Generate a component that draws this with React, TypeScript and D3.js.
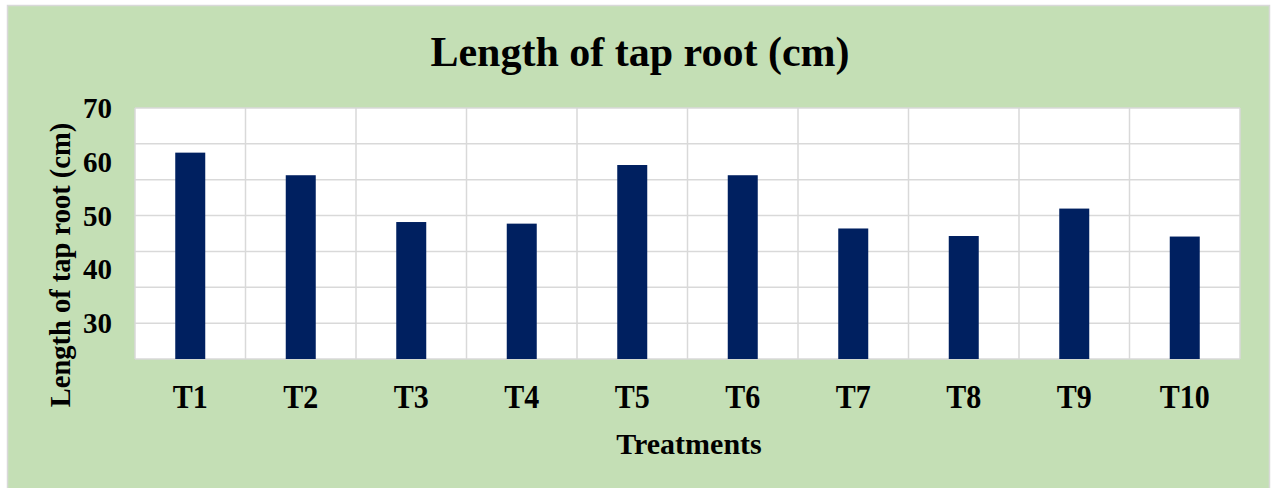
import React from "react";
import * as d3 from "d3";

const categories = ["T1", "T2", "T3", "T4", "T5", "T6", "T7", "T8", "T9", "T10"];
const values = [61.7, 57.5, 48.8, 48.5, 59.4, 57.5, 47.6, 46.2, 51.3, 46.1];
const tickLabels = [70, 60, 50, 40, 30];
const gridStep = 20 / 3;
const yMin = 70 - 7 * gridStep;
const yMax = 70;
const gridValues = d3.range(0, 8).map((i) => 70 - i * gridStep);

const W = 1278;
const H = 488;
const plot = { left: 135, right: 1240, top: 108, bottom: 359 };
const FONT = "'Liberation Serif', 'Times New Roman', serif";

export default function App() {
  const x = d3
    .scaleBand<string>()
    .domain(categories)
    .range([plot.left, plot.right])
    .paddingInner(0)
    .paddingOuter(0);
  const y = d3.scaleLinear().domain([yMin, yMax]).range([plot.bottom, plot.top]);
  const barW = 30;

  return (
    <div style={{ position: "fixed", left: 0, top: 0, width: W, height: H, background: "#fff" }}>
      <svg width={W} height={H} style={{ display: "block" }}>
        <rect x={7.5} y={5.5} width={1262} height={490} fill="#C4DFB5" stroke="#D9D9D9" strokeWidth={1.5} />
        <text
          x={640}
          y={66}
          textAnchor="middle"
          fontFamily={FONT}
          fontWeight="bold"
          fontSize={42}
          fill="#000"
        >
          Length of tap root (cm)
        </text>
        <rect
          x={plot.left}
          y={plot.top}
          width={plot.right - plot.left}
          height={plot.bottom - plot.top}
          fill="#fff"
        />
        {gridValues.map((v, i) => (
          <line
            key={"h" + i}
            x1={plot.left}
            x2={plot.right}
            y1={y(v)}
            y2={y(v)}
            stroke="#D9D9D9"
            strokeWidth={1.5}
          />
        ))}
        {categories.map((c, i) => (
          <line
            key={"v" + i}
            x1={x(c)!}
            x2={x(c)!}
            y1={plot.top}
            y2={plot.bottom}
            stroke="#D9D9D9"
            strokeWidth={1.5}
          />
        ))}
        <line x1={plot.right} x2={plot.right} y1={plot.top} y2={plot.bottom} stroke="#D9D9D9" strokeWidth={1.5} />
        {categories.map((c, i) => (
          <rect
            key={"b" + c}
            x={x(c)! + x.bandwidth() / 2 - barW / 2}
            y={y(values[i])}
            width={barW}
            height={plot.bottom - y(values[i])}
            fill="#002060"
          />
        ))}
        {tickLabels.map((t) => (
          <text
            key={"t" + t}
            x={112}
            y={y(t) + 10}
            textAnchor="end"
            fontFamily={FONT}
            fontWeight="bold"
            fontSize={29}
            fill="#000"
          >
            {t}
          </text>
        ))}
        {categories.map((c) => (
          <text
            key={"l" + c}
            transform={`translate(${x(c)! + x.bandwidth() / 2}, 408) scale(1, 1.13)`}
            textAnchor="middle"
            fontFamily={FONT}
            fontWeight="bold"
            fontSize={30}
            fill="#000"
          >
            {c}
          </text>
        ))}
        <text
          x={689}
          y={454}
          textAnchor="middle"
          fontFamily={FONT}
          fontWeight="bold"
          fontSize={30}
          fill="#000"
        >
          Treatments
        </text>
        <text
          transform={`translate(70, 265) rotate(-90)`}
          textAnchor="middle"
          fontFamily={FONT}
          fontWeight="bold"
          fontSize={28.5}
          fill="#000"
        >
          Length of tap root (cm)
        </text>
      </svg>
    </div>
  );
}
